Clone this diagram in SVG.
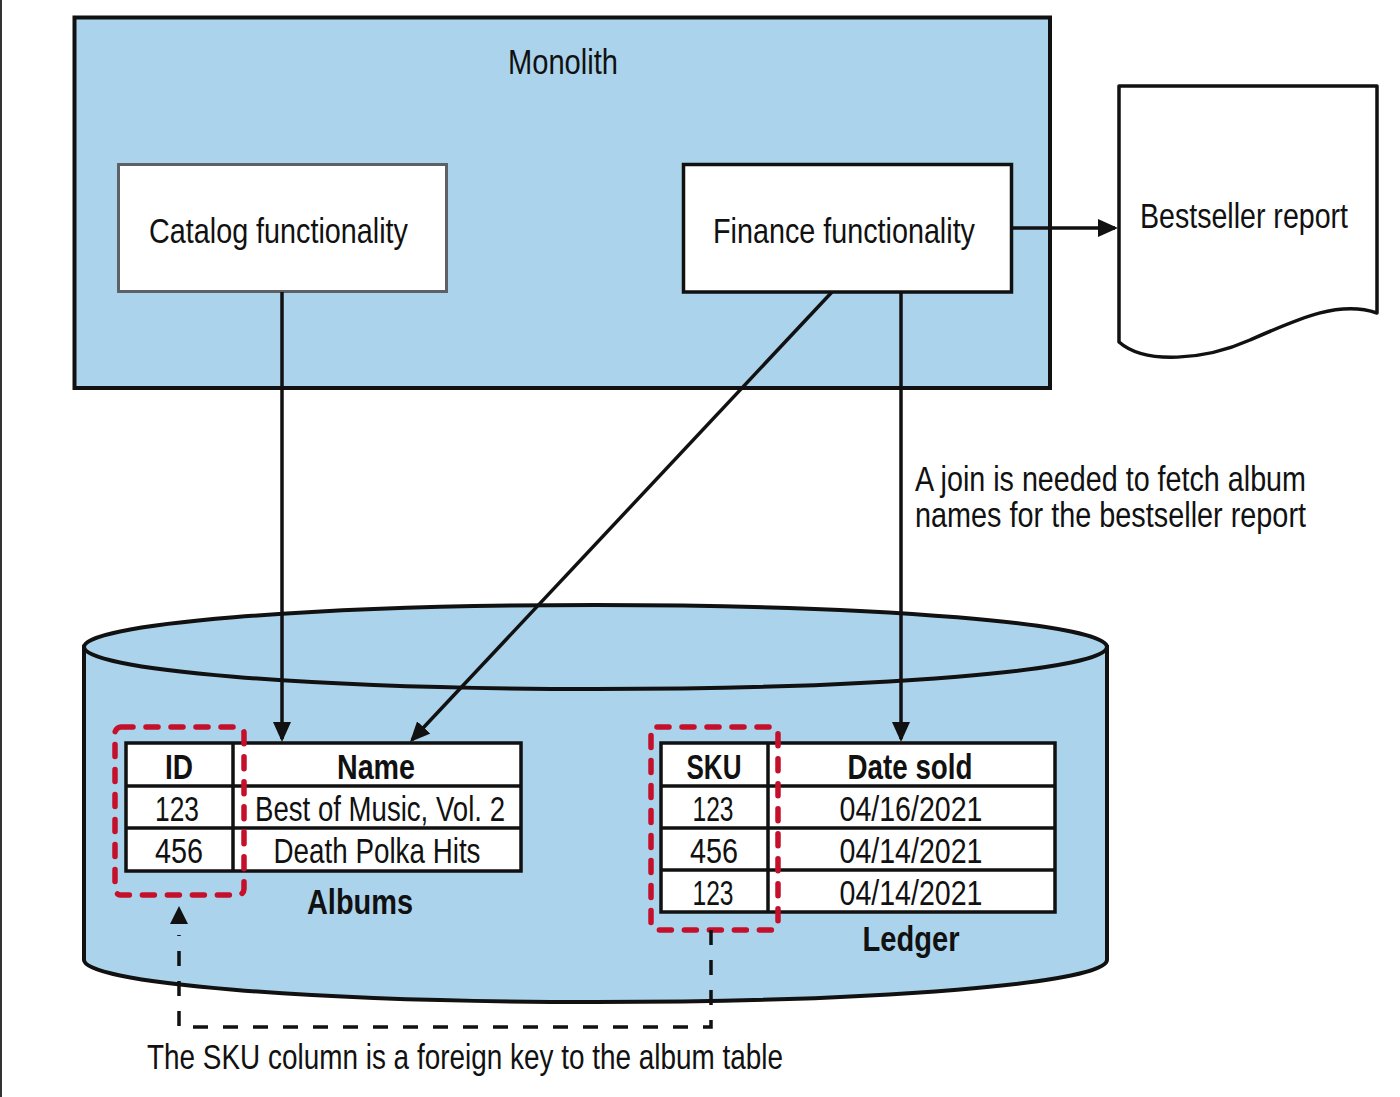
<svg xmlns="http://www.w3.org/2000/svg" width="1400" height="1097" viewBox="0 0 1400 1097">
  <style>
    .t { font-family: "Liberation Sans", Arial, sans-serif; font-size: 35px; fill: #111; }
    .b { font-weight: bold; }
    .mid { text-anchor: middle; }
    .edge { fill: none; stroke: #111; stroke-width: 3.5; }
    .dash { fill: none; stroke: #111; stroke-width: 3.5; stroke-dasharray: 15 15; }
    .key { fill: none; stroke: #c5102c; stroke-width: 5.5; stroke-dasharray: 12 13; stroke-linecap: round; }
    .cell { fill: #fff; stroke: #111; stroke-width: 3.5; }
    .grid { stroke: #111; stroke-width: 3.5; }
  </style>
  <defs>
    <marker id="arrow" markerUnits="userSpaceOnUse" markerWidth="20" markerHeight="18" refX="17" refY="9" orient="auto">
      <path d="M0,0 L20,9 L0,18 z" fill="#111"/>
    </marker>
  </defs>

  <rect x="0" y="0" width="1400" height="1097" fill="#fff"/>
  <rect x="0" y="0" width="2" height="1097" fill="#333"/>

  <!-- Monolith container -->
  <g id="monolith">
    <rect x="74.5" y="17.5" width="975.5" height="370.5" fill="#abd4ec" stroke="#111" stroke-width="4"/>
    <text class="t mid" x="563" y="74" textLength="110" lengthAdjust="spacingAndGlyphs">Monolith</text>
  </g>

  <g id="catalog">
    <rect x="118.5" y="164.5" width="328" height="127" fill="#fff" stroke="#5d6166" stroke-width="3"/>
    <text class="t" x="149" y="243" textLength="259" lengthAdjust="spacingAndGlyphs">Catalog functionality</text>
  </g>

  <g id="finance">
    <rect x="683.5" y="164.5" width="328" height="127.5" fill="#fff" stroke="#111" stroke-width="3.5"/>
    <text class="t" x="713" y="243" textLength="262" lengthAdjust="spacingAndGlyphs">Finance functionality</text>
  </g>

  <g id="report">
    <path d="M1119,86 H1377 V313 C1340,300 1300,318 1250,340 C1205,360 1145,365 1119,342 Z" fill="#fff" stroke="#111" stroke-width="3.5" stroke-linejoin="round"/>
    <text class="t" x="1140" y="228" textLength="208" lengthAdjust="spacingAndGlyphs">Bestseller report</text>
  </g>

  <!-- Database cylinder -->
  <g id="database">
    <path d="M84,647 V960 A511.5,42 0 0 0 1107,960 V647 Z" fill="#abd4ec" stroke="#111" stroke-width="4"/>
    <ellipse cx="595.5" cy="647" rx="511.5" ry="42" fill="#abd4ec" stroke="#111" stroke-width="4"/>
  </g>

  <g id="albums">
    <rect class="cell" x="126" y="743" width="395" height="128"/>
    <line class="grid" x1="126" y1="786" x2="521" y2="786"/>
    <line class="grid" x1="126" y1="828" x2="521" y2="828"/>
    <line class="grid" x1="233" y1="743" x2="233" y2="871"/>
    <text class="t b mid" x="179" y="779" textLength="28" lengthAdjust="spacingAndGlyphs">ID</text>
    <text class="t b mid" x="376" y="779" textLength="78" lengthAdjust="spacingAndGlyphs">Name</text>
    <text class="t mid" x="177" y="821" textLength="44" lengthAdjust="spacingAndGlyphs">123</text>
    <text class="t mid" x="380" y="821" textLength="250" lengthAdjust="spacingAndGlyphs">Best of Music, Vol. 2</text>
    <text class="t mid" x="179" y="863" textLength="48" lengthAdjust="spacingAndGlyphs">456</text>
    <text class="t mid" x="377" y="863" textLength="207" lengthAdjust="spacingAndGlyphs">Death Polka Hits</text>
    <text class="t b mid" x="360" y="914" textLength="106" lengthAdjust="spacingAndGlyphs">Albums</text>
    <rect class="key" x="115" y="727" width="129" height="168" rx="6"/>
  </g>

  <g id="ledger">
    <rect class="cell" x="661" y="743" width="394" height="169"/>
    <line class="grid" x1="661" y1="786" x2="1055" y2="786"/>
    <line class="grid" x1="661" y1="828" x2="1055" y2="828"/>
    <line class="grid" x1="661" y1="870" x2="1055" y2="870"/>
    <line class="grid" x1="768" y1="743" x2="768" y2="912"/>
    <text class="t b mid" x="714" y="779" textLength="55" lengthAdjust="spacingAndGlyphs">SKU</text>
    <text class="t b mid" x="910" y="779" textLength="125" lengthAdjust="spacingAndGlyphs">Date sold</text>
    <text class="t mid" x="713" y="821" textLength="41" lengthAdjust="spacingAndGlyphs">123</text>
    <text class="t mid" x="911" y="821" textLength="143" lengthAdjust="spacingAndGlyphs">04/16/2021</text>
    <text class="t mid" x="714" y="863" textLength="48" lengthAdjust="spacingAndGlyphs">456</text>
    <text class="t mid" x="911" y="863" textLength="143" lengthAdjust="spacingAndGlyphs">04/14/2021</text>
    <text class="t mid" x="713" y="905" textLength="41" lengthAdjust="spacingAndGlyphs">123</text>
    <text class="t mid" x="911" y="905" textLength="143" lengthAdjust="spacingAndGlyphs">04/14/2021</text>
    <text class="t b mid" x="911" y="951" textLength="97" lengthAdjust="spacingAndGlyphs">Ledger</text>
    <rect class="key" x="651" y="727" width="127" height="203" rx="6"/>
  </g>

  <!-- Connectors -->
  <g id="connectors">
    <line class="edge" x1="1012" y1="228" x2="1115" y2="228" marker-end="url(#arrow)"/>
    <line class="edge" x1="282" y1="292" x2="282" y2="739" marker-end="url(#arrow)"/>
    <line class="edge" x1="832" y1="292" x2="412.05" y2="739.8" marker-end="url(#arrow)"/>
    <line class="edge" x1="901" y1="292" x2="901" y2="739" marker-end="url(#arrow)"/>
    <!-- foreign-key link: dashed run with a detached arrowhead under the ID column -->
    <path class="dash" d="M711,930 V1027 H179 V935"/>
    <polygon points="170,924 179,906 188,924" fill="#111"/>
  </g>

  <g id="labels">
    <text class="t" x="915" y="491" textLength="391" lengthAdjust="spacingAndGlyphs">A join is needed to fetch album</text>
    <text class="t" x="915" y="527" textLength="391" lengthAdjust="spacingAndGlyphs">names for the bestseller report</text>
    <text class="t" x="147" y="1069" textLength="636" lengthAdjust="spacingAndGlyphs">The SKU column is a foreign key to the album table</text>
  </g>
</svg>
